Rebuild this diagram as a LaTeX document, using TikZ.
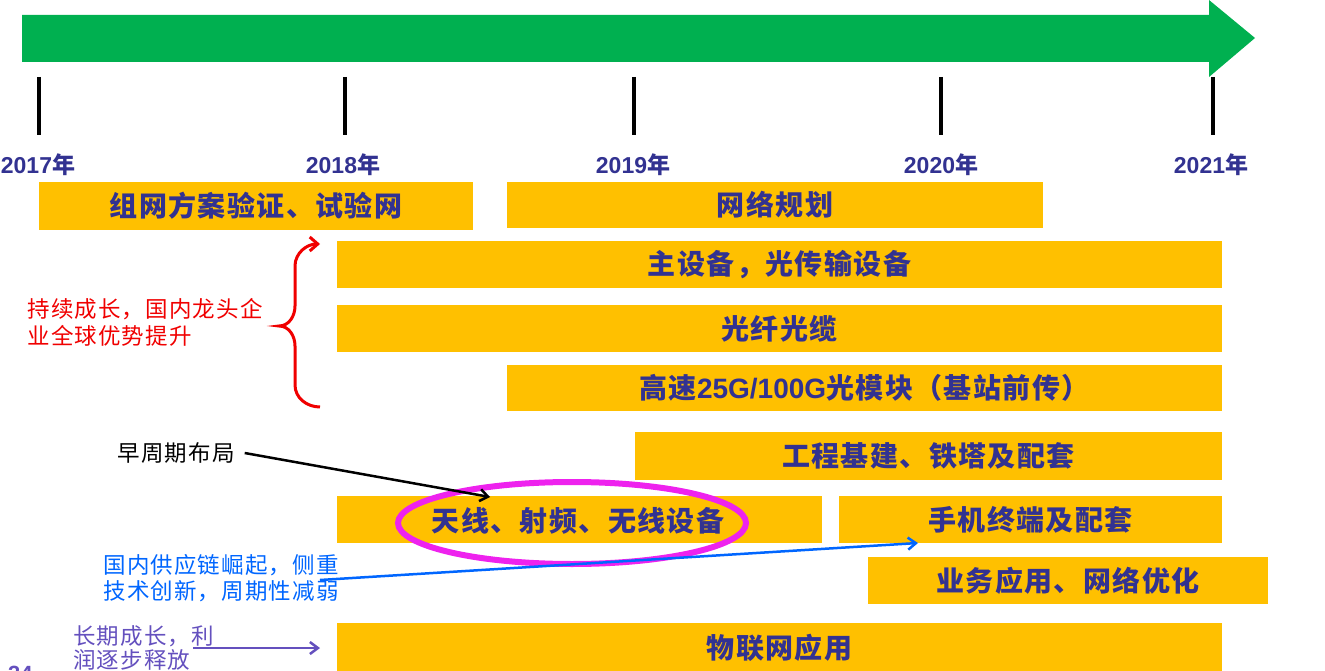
\documentclass[tikz,border=0pt]{standalone}
\usepackage{fontspec}
\setmainfont{Liberation Sans}
\newfontfamily\cjk[LetterSpace=5]{Noto Sans CJK SC}
\usetikzlibrary{arrows.meta}
\definecolor{boxorange}{RGB}{255,192,0}
\definecolor{boxtext}{RGB}{50,50,145}
\definecolor{arrowgreen}{RGB}{0,176,80}
\definecolor{yearblue}{RGB}{50,50,145}
\definecolor{labred}{RGB}{240,0,0}
\definecolor{labblue}{RGB}{0,102,255}
\definecolor{labpurple}{RGB}{100,80,190}
\definecolor{ellmag}{RGB}{238,34,238}
\tikzset{
  bx/.style={fill=boxorange, draw=none, inner sep=0pt, text=boxtext,
    font=\fontsize{28}{30}\selectfont\cjk\bfseries},
  yr/.style={text=yearblue, inner sep=0pt, font=\fontsize{23}{25}\selectfont\bfseries},
  tick/.style={line width=4pt, black},
  lab/.style={inner sep=0pt, align=left, font=\fontsize{22.5}{27}\selectfont\cjk},
}
\begin{document}
\begin{tikzpicture}[x=1pt,y=-1pt]
\useasboundingbox (0,0) rectangle (1325,671);
% timeline arrow
\fill[arrowgreen] (22,15) -- (1209,15) -- (1209,0) -- (1255,38) -- (1209,77) -- (1209,62) -- (22,62) -- cycle;
% ticks
\foreach \x/\n in {39/a,345/b,634/c,941/d,1213/e}{
  \coordinate (t\n1) at (\x,77);
  \coordinate (t\n2) at (\x,135);
  \draw[tick] (t\n1) -- (t\n2);
}
% years
\node[yr] (y2017) at (38,165) {2017{\cjk 年}};
\node[yr] (y2018) at (343,165) {2018{\cjk 年}};
\node[yr] (y2019) at (633,165) {2019{\cjk 年}};
\node[yr] (y2020) at (941,165) {2020{\cjk 年}};
\node[yr] (y2021) at (1211,165) {2021{\cjk 年}};
% boxes
\node[bx, minimum width=434pt, minimum height=48pt] (b1) at (256,206) {组网方案验证、试验网};
\node[bx, minimum width=536pt, minimum height=46pt] (b2) at (775,205) {网络规划};
\node[bx, minimum width=885pt, minimum height=47pt] (b3) at (779.5,264.5) {主设备，光传输设备};
\node[bx, minimum width=885pt, minimum height=47pt] (b4) at (779.5,328.5) {光纤光缆};
\node[bx, minimum width=715pt, minimum height=46pt] (b5) at (864.5,388) {高速{\fontspec{Liberation Sans}\bfseries 25G/100G}光模块（基站前传）};
\node[bx, minimum width=587pt, minimum height=48pt] (b6) at (928.5,456) {工程基建、铁塔及配套};
\node[bx, minimum width=485pt, minimum height=47pt] (b7) at (579.5,519.5) {};
\node[bx, minimum width=383pt, minimum height=47pt] (b8) at (1030.5,519.5) {手机终端及配套};
\node[bx, minimum width=400pt, minimum height=47pt] (b9) at (1068,580.5) {业务应用、网络优化};
\node[bx, minimum width=885pt, minimum height=49pt] (b10) at (779.5,647.5) {物联网应用};
% ellipse highlight
\draw[ellmag, line width=6pt] (572,523) ellipse [x radius=174, y radius=41];
\node[bx, fill=none] (b7t) at (578,521) {天线、射频、无线设备};
% red label and brace
\node[lab, text=labred] (lred) at (145,322) {持续成长，国内龙头企\\业全球优势提升};
\coordinate (brb) at (320,407);
\coordinate (brm) at (279,326);
\coordinate (brt) at (320,244);
\draw[labred, line width=3pt, -{Straight Barb[length=8pt,width=14pt]}]
  (brb) to[out=180,in=270] (295,385) -- (295,346) to[out=90,in=0] (brm)
  to[out=0,in=270] (295,306) -- (295,266) to[out=90,in=180] (brt);
% black label
\node[lab, text=black] (lblack) at (176,453) {早周期布局};
\coordinate (blackend) at (490,497);
\draw[black, line width=2.5pt, -{Straight Barb[length=8pt,width=12pt]}] (lblack.east) ++(10,0) -- (blackend);
% blue label
\node[lab, text=labblue, font=\fontsize{22.5}{26}\selectfont\cjk] (lblue) at (221,578) {国内供应链崛起，侧重\\技术创新，周期性减弱};
\coordinate (bluestart) at (320,580);
\coordinate (blueend) at (918,543);
\draw[labblue, line width=2.5pt, -{Straight Barb[length=8pt,width=12pt]}] (bluestart) -- (blueend);
% purple label
\node[lab, text=labpurple, font=\fontsize{22.5}{24}\selectfont\cjk] (lpurple) at (73,648) [anchor=west] {长期成长，利\\润逐步释放};
\coordinate (purstart) at (193,648);
\coordinate (purend) at (320,648);
\draw[labpurple, line width=2.5pt, -{Straight Barb[length=8pt,width=12pt]}] (purstart) -- (purend);
% page number (cut off)
\node[text=labpurple, inner sep=0pt, anchor=north west, font=\fontsize{22}{24}\selectfont\bfseries] (pg) at (8,666) {34};
\end{tikzpicture}
\end{document}
